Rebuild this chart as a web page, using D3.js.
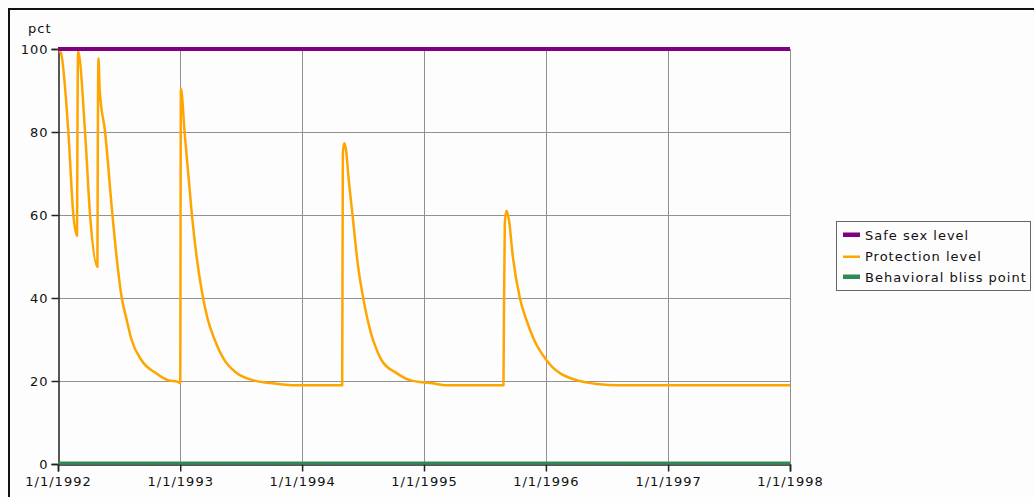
<!DOCTYPE html>
<html>
<head>
<meta charset="utf-8">
<script src="https://cdn.jsdelivr.net/npm/d3@7"></script>
<style>
  body { margin: 0; background: #fdfdfd; }
  text { font-family: "DejaVu Sans", Verdana, sans-serif; font-size: 13px; fill: #111; letter-spacing: 1px; }
</style>
</head>
<body>
<script>
// time range of the run
var startDate = "1992-01-01", endDate = "1998-01-01";

// safe sex level and bliss point are flat
var safeDates = [startDate, endDate];
var safeValues = [100, 100];
var blissDates = [startDate, endDate];
var blissValues = [0, 0];

// protection level
var protDates = [
  "1992-01-01","1992-01-10","1992-02-01","1992-02-16","1992-02-27",
  "1992-02-28","1992-03-01","1992-03-22","1992-04-06","1992-04-28",
  "1992-04-29","1992-05-01","1992-05-05","1992-05-21","1992-06-12","1992-06-25","1992-07-10","1992-07-24","1992-08-08","1992-09-07","1992-10-22","1992-11-25","1992-12-25",
  "1993-01-01","1993-01-03","1993-01-14","1993-01-25","1993-02-05","1993-02-19","1993-03-07","1993-03-24","1993-04-14","1993-05-12","1993-06-18","1993-08-12","1993-10-11","1993-11-30",
  "1994-05-01","1994-05-03","1994-05-07","1994-05-12","1994-05-20","1994-06-01","1994-06-17","1994-07-03","1994-07-16","1994-07-28","1994-08-11","1994-08-27","1994-10-11","1994-11-20",
  "1995-02-08","1995-03-05","1995-08-27","1995-08-28","1995-08-31","1995-09-05","1995-09-12","1995-09-24","1995-10-15","1995-11-05","1995-11-29",
  "1996-01-03","1996-01-22","1996-02-12","1996-04-02","1996-06-01","1996-08-09","1998-01-01"
];
var protValues = [
  100, 99, 80, 60, 55,
  75, 99.5, 80, 60, 47.5,
  72, 97.8, 90, 80, 60, 49.5, 40, 35, 30, 25, 21.8, 20.2, 19.8,
  19.5, 90.5, 80, 70, 60, 50, 41.5, 35, 30, 25.2, 22, 20.1, 19.4, 19.0,
  19.0, 75, 77.3, 76, 69, 60, 48, 40, 34.8, 31, 27.8, 25, 21.9, 20.2,
  19.3, 19.0, 19.0, 31.5, 58, 61, 59, 50, 40, 34.4, 29.5,
  25, 23.2, 21.9, 20.2, 19.3, 19.0, 19.0
];

var yTicks = [0, 20, 40, 60, 80, 100];
var xTickYears = ["1992-01-01","1993-01-01","1994-01-01","1995-01-01","1996-01-01","1997-01-01","1998-01-01"];

var seriesNames = ["Safe sex level", "Protection level", "Behavioral bliss point"];
var seriesColors = ["#800080", "#ffa500", "#2e8b57"];

var width = 1034, height = 497;
var parse = d3.timeParse("%Y-%m-%d");
var fmt = d3.timeFormat("%-m/%-d/%Y");

var x = d3.scaleTime()
    .domain([parse(startDate), parse(endDate)])
    .range([58, 790]);
var y = d3.scaleLinear()
    .domain([0, 100])
    .range([464, 49]);

var svg = d3.select("body").append("svg")
    .attr("width", width)
    .attr("height", height);

// outer frame
svg.append("rect")
    .attr("x", 9).attr("y", 9)
    .attr("width", 1200).attr("height", 700)
    .attr("fill", "none")
    .attr("stroke", "#111")
    .attr("stroke-width", 2);

// grid
var grid = svg.append("g");
grid.selectAll(".hg")
    .data(yTicks.filter(function(d){ return d > 0; }))
    .enter().append("line")
    .attr("x1", 58).attr("x2", 790)
    .attr("y1", function(d){ return y(d) + 0.5; })
    .attr("y2", function(d){ return y(d) + 0.5; })
    .attr("stroke", "#919191");
grid.selectAll(".vg")
    .data(xTickYears.slice(1))
    .enter().append("line")
    .attr("x1", function(d){ return Math.round(x(parse(d))) + 0.5; })
    .attr("x2", function(d){ return Math.round(x(parse(d))) + 0.5; })
    .attr("y1", 49).attr("y2", 464)
    .attr("stroke", "#919191");

// axes
var yAxis = svg.append("g")
    .attr("transform", "translate(58.5,0)")
    .call(d3.axisLeft(y).tickValues(yTicks).tickSize(7).tickPadding(3));
var xAxis = svg.append("g")
    .attr("transform", "translate(0,464.5)")
    .call(d3.axisBottom(x).tickValues(xTickYears.map(parse)).tickFormat(fmt).tickSize(7).tickPadding(5));
[yAxis, xAxis].forEach(function(a){
    a.select(".domain").attr("stroke", "#222").attr("stroke-width", 1.5);
    a.selectAll(".tick line").attr("stroke", "#222").attr("stroke-width", 1.5);
    a.selectAll("text").attr("fill", "#111").style("font-size", "13px")
        .style("font-family", "\"DejaVu Sans\", Verdana, sans-serif");
});

svg.append("text")
    .attr("x", 28).attr("y", 33)
    .text("pct");

// series lines
function makeLine(curve) {
    return d3.line()
        .x(function(d){ return x(d[0]); })
        .y(function(d){ return y(d[1]); })
        .curve(curve);
}
function pairs(dates, values) {
    return dates.map(function(d, i){ return [parse(d), values[i]]; });
}

svg.append("path")
    .attr("d", makeLine(d3.curveLinear)(pairs(blissDates, blissValues)))
    .attr("transform", "translate(0,-1)")
    .attr("fill", "none")
    .attr("stroke", seriesColors[2])
    .attr("stroke-width", 3);

svg.append("path")
    .attr("d", makeLine(d3.curveMonotoneX)(pairs(protDates, protValues)))
    .attr("fill", "none")
    .attr("stroke", seriesColors[1])
    .attr("stroke-width", 2.5)
    .attr("stroke-linejoin", "round");

svg.append("path")
    .attr("d", makeLine(d3.curveLinear)(pairs(safeDates, safeValues)))
    .attr("fill", "none")
    .attr("stroke", seriesColors[0])
    .attr("stroke-width", 4);

// legend
var legend = svg.append("g").attr("transform", "translate(836,221)");
legend.append("rect")
    .attr("x", 0.5).attr("y", 0.5)
    .attr("width", 194).attr("height", 69)
    .attr("fill", "#fdfdfd")
    .attr("stroke", "#666");
var item = legend.selectAll(".item")
    .data(seriesNames)
    .enter().append("g")
    .attr("transform", function(d, i){ return "translate(0," + (i * 21) + ")"; });
item.append("rect")
    .attr("x", 7)
    .attr("y", function(d, i){ return i == 1 ? 13.5 : 11.5; })
    .attr("width", 17)
    .attr("height", function(d, i){ return i == 1 ? 2.5 : 4.5; })
    .attr("fill", function(d, i){ return seriesColors[i]; });
item.append("text")
    .attr("x", 29).attr("y", 19)
    .text(function(d){ return d; });
</script>
</body>
</html>
